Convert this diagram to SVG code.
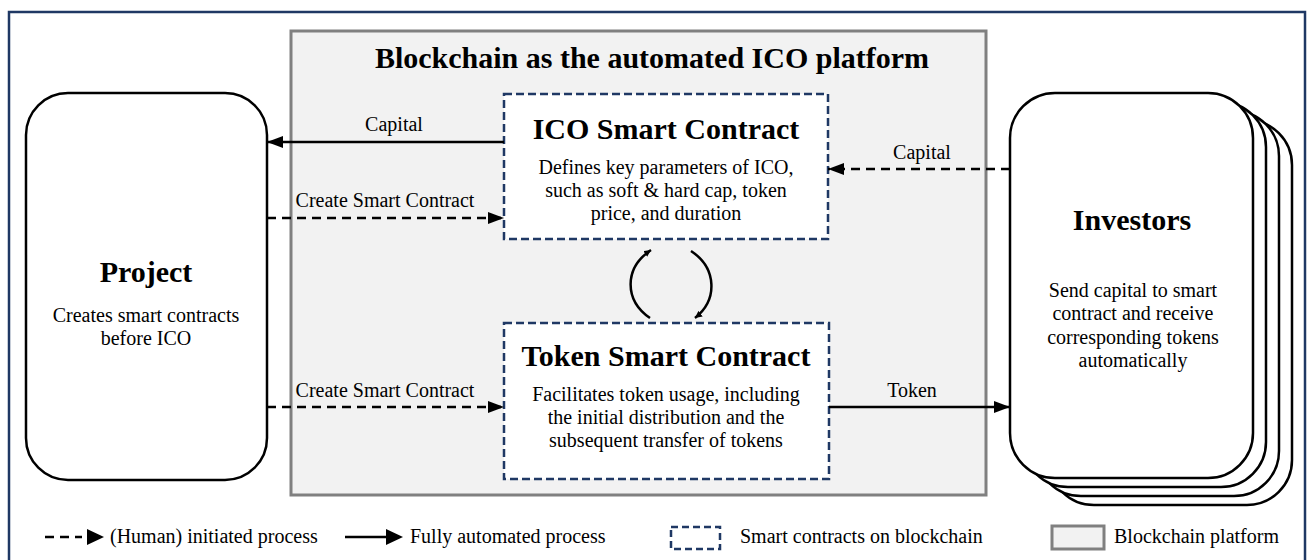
<svg xmlns="http://www.w3.org/2000/svg" width="1310" height="560" viewBox="0 0 1310 560">
<defs>
<marker id="ah" viewBox="0 0 10 10" refX="10" refY="5" markerWidth="7" markerHeight="7" markerUnits="userSpaceOnUse" orient="auto">
<path d="M0,0 L10,5 L0,10 z" fill="#000"/>
</marker>
<marker id="big" viewBox="0 0 16 12" refX="16" refY="6" markerWidth="16" markerHeight="12" markerUnits="userSpaceOnUse" orient="auto">
<path d="M0,0 L16,6 L0,12 z" fill="#000"/>
</marker>
</defs>
<style>
text{font-family:"Liberation Serif","Times New Roman",serif;fill:#000;text-anchor:middle}
.t{font-weight:bold;font-size:30px}
.d{font-size:20px}
.l{font-size:20px}
.lg{font-size:20px;text-anchor:start}
.solid{stroke:#000;stroke-width:2.5;fill:none}
.dash{stroke:#000;stroke-width:2.5;fill:none;stroke-dasharray:9 6}
.sc{fill:#fff;stroke:#1f3864;stroke-width:2.5;stroke-dasharray:8 4}
.rnd{fill:#fff;stroke:#000;stroke-width:2.5}
</style>
<rect x="0" y="0" width="1310" height="560" fill="#fff"/>
<rect x="9" y="12" width="1296" height="560" fill="none" stroke="#1f3864" stroke-width="2.5"/>

<g id="platform">
<rect x="291" y="31" width="695" height="464" fill="#f2f2f2" stroke="#808080" stroke-width="3"/>
<text class="t" x="652" y="68" font-size="26">Blockchain as the automated ICO platform</text>
</g>

<g id="project">
<rect class="rnd" x="26" y="93" width="241" height="387" rx="42"/>
<text class="t" x="146" y="282">Project</text>
<text class="d" x="146" y="322">Creates smart contracts</text>
<text class="d" x="146" y="345">before ICO</text>
</g>

<g id="ico">
<rect class="sc" x="504" y="94" width="324" height="145"/>
<text class="t" x="666" y="139">ICO Smart Contract</text>
<text class="d" x="666" y="174">Defines key parameters of ICO,</text>
<text class="d" x="666" y="197">such as soft &amp; hard cap, token</text>
<text class="d" x="666" y="220">price, and duration</text>
</g>

<g id="token">
<rect class="sc" x="504" y="323" width="325" height="156"/>
<text class="t" x="666" y="366">Token Smart Contract</text>
<text class="d" x="666" y="401">Facilitates token usage, including</text>
<text class="d" x="666" y="424">the initial distribution and the</text>
<text class="d" x="666" y="447">subsequent transfer of tokens</text>
</g>

<g id="investors">
<rect class="rnd" x="1049" y="120" width="243" height="385" rx="45"/>
<rect class="rnd" x="1036" y="111" width="243" height="385" rx="45"/>
<rect class="rnd" x="1023" y="102" width="243" height="385" rx="45"/>
<rect class="rnd" x="1010" y="93" width="243" height="385" rx="45"/>
<text class="t" x="1132" y="230">Investors</text>
<text class="d" x="1133" y="297">Send capital to smart</text>
<text class="d" x="1133" y="320">contract and receive</text>
<text class="d" x="1133" y="344">corresponding tokens</text>
<text class="d" x="1133" y="367">automatically</text>
</g>

<g id="connectors">
<line class="solid" x1="504" y1="142" x2="267" y2="142" marker-end="url(#big)"/>
<text class="l" x="394" y="131">Capital</text>
<line class="dash" x1="267" y1="218" x2="504" y2="218" marker-end="url(#big)"/>
<text class="l" x="385" y="207">Create Smart Contract</text>
<line class="dash" x1="267" y1="407" x2="504" y2="407" marker-end="url(#big)"/>
<text class="l" x="385" y="397">Create Smart Contract</text>
<line class="solid" x1="829" y1="407" x2="1010" y2="407" marker-end="url(#big)"/>
<text class="l" x="912" y="397">Token</text>
<line class="dash" x1="1010" y1="169" x2="828" y2="169" marker-end="url(#big)"/>
<text class="l" x="922" y="159">Capital</text>
<path class="solid" d="M650,318 C624,300 624,268 651,250" stroke-width="2" marker-end="url(#ah)"/>
<path class="solid" d="M691,251 C717,268 718,300 695,318" stroke-width="2" marker-end="url(#ah)"/>
</g>

<g id="legend">
<line class="dash" x1="45" y1="537" x2="82" y2="537" stroke-dasharray="10 7"/>
<path d="M87,529 L104,537 L87,545 z" fill="#000"/>
<text class="lg" x="110" y="543">(Human) initiated process</text>
<line class="solid" x1="345" y1="537" x2="388" y2="537"/>
<path d="M386,529 L403,537 L386,545 z" fill="#000"/>
<text class="lg" x="410" y="543">Fully automated process</text>
<rect x="671" y="527" width="49" height="22" fill="#fff" stroke="#1f3864" stroke-width="2.5" stroke-dasharray="7 4"/>
<text class="lg" x="740" y="543">Smart contracts on blockchain</text>
<rect x="1052" y="526" width="52" height="23" fill="#f2f2f2" stroke="#808080" stroke-width="3"/>
<text class="lg" x="1114" y="543">Blockchain platform</text>
</g>
</svg>
